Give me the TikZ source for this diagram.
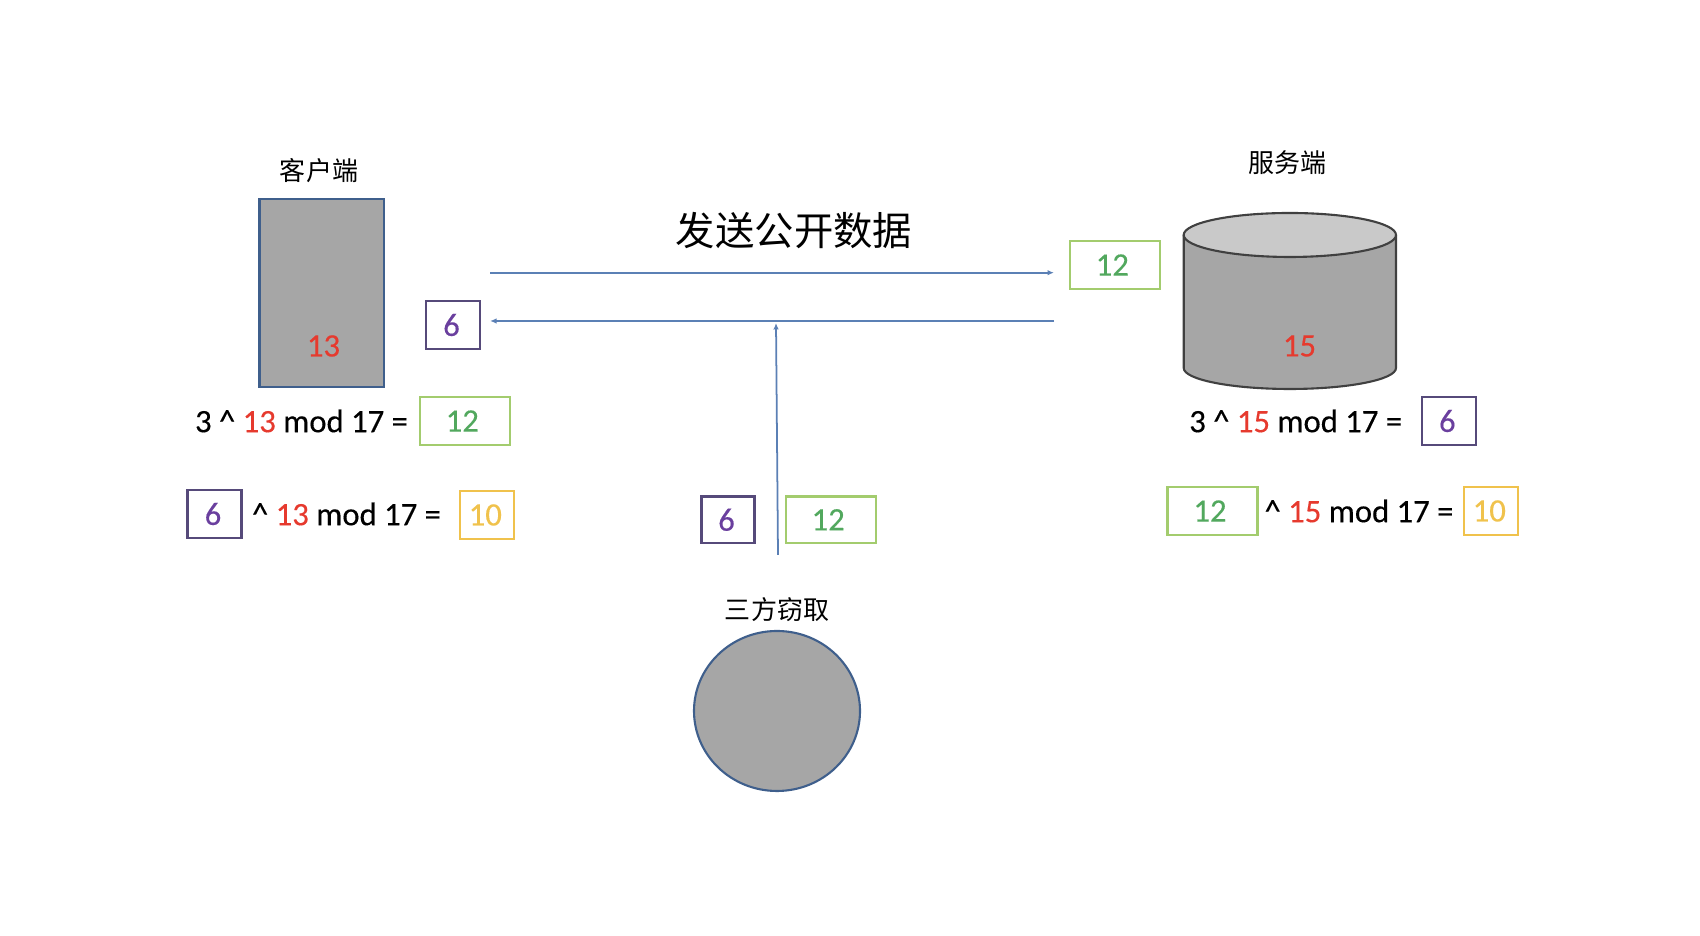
\documentclass[tikz,border=0pt]{standalone}
\usepackage{fontspec}
\setmainfont[FakeBold=0.3]{Carlito}
\newfontfamily\cjk{Noto Sans CJK SC}
\usepackage{xcolor}
\definecolor{myred}{HTML}{E63A2E}
\definecolor{mygreen}{HTML}{52A85E}
\definecolor{mygreenbox}{HTML}{A3CC6E}
\definecolor{mypurple}{HTML}{6A3F9E}
\definecolor{mypurplebox}{HTML}{564A7A}
\definecolor{myyellow}{HTML}{F0C24C}
\definecolor{myblue}{HTML}{5B80B5}
\definecolor{myedge}{HTML}{3F5F8C}
\definecolor{mygrey}{HTML}{A6A6A6}
\definecolor{mylight}{HTML}{C9C9C9}
\definecolor{mydark}{HTML}{404040}
\usetikzlibrary{arrows.meta}
\usetikzlibrary{shapes.geometric}
\newcommand{\rd}[1]{\textcolor{myred}{#1}}
\tikzset{
  valbox/.style={draw, line width=0.6pt, inner sep=0pt, minimum height=0.48cm},
  greenbox/.style={valbox, draw=mygreenbox, text=mygreen, minimum width=0.9cm, execute at end node={\hspace{.05cm}}},
  purplebox/.style={valbox, draw=mypurplebox, text=mypurple, minimum width=0.54cm, execute at end node={\hspace{.03cm}}},
  yellowbox/.style={valbox, draw=myyellow, text=myyellow, minimum width=0.54cm, execute at end node={\hspace{.03cm}}},
  calc/.style={inner sep=0pt, text=black},
  caption/.style={inner sep=0pt, font=\cjk\fontsize{7.4}{9}\selectfont},
  secret/.style={inner sep=0pt, text=myred},
  flow/.style={myblue, line width=0.5pt, -{Latex[length=0.65mm,width=0.55mm]}},
  device/.style={draw=myedge, fill=mygrey, line width=0.6pt, inner sep=0pt}
}
\begin{document}
\begin{tikzpicture}[font=\fontsize{9.3}{11}\selectfont]
      \useasboundingbox (0cm,0cm) rectangle (17cm,9.36cm);

      % client
      \node[device, rectangle, minimum width=1.245cm, minimum height=1.88cm] (client) at (3.2175cm,6.43cm) {};
      \node[caption] (clientname) at (3.19cm,7.65cm) {客户端};
      \node[secret] (clientkey) at (3.235cm,5.90cm) {13};
      \node[purplebox] (sixa) at (4.53cm,6.11cm) {6};
      \node[calc] (calca) at (3.015cm,5.15cm) {3 \^{} \rd{13} mod 17 =};
      \node[greenbox] (twelvea) at (4.648cm,5.15cm) {12};
      \node[purplebox] (sixb) at (2.145cm,4.22cm) {6};
      \node[calc] (calcb) at (3.465cm,4.22cm) {\^{} \rd{13} mod 17 =};
      \node[yellowbox] (tena) at (4.868cm,4.21cm) {10};

      % server
      \draw[mydark, fill=mygrey, line width=0.6pt] (11.837cm,7.01cm) -- (11.837cm,5.68cm)
        arc [start angle=180, end angle=360, x radius=1.0615cm, y radius=0.21cm] -- (13.96cm,7.01cm);
      \draw[mydark, fill=mylight, line width=0.6pt] (12.8985cm,7.01cm) ellipse [x radius=1.0615cm, y radius=0.22cm];
      \node[caption] (servername) at (12.877cm,7.73cm) {服务端};
      \node[secret] (serverkey) at (12.995cm,5.90cm) {15};
      \node[greenbox] (twelveb) at (11.148cm,6.71cm) {12};
      \node[calc] (calcc) at (12.957cm,5.15cm) {3 \^{} \rd{15} mod 17 =};
      \node[purplebox] (sixc) at (14.488cm,5.15cm) {6};
      \node[greenbox] (twelvec) at (12.125cm,4.25cm) {12};
      \node[calc] (calcd) at (13.59cm,4.25cm) {\^{} \rd{15} mod 17 =};
      \node[yellowbox] (tenb) at (14.908cm,4.25cm) {10};

      % public exchange
      \node[inner sep=0pt, font=\cjk\fontsize{11.2}{13}\selectfont] (public) at (7.94cm,7.05cm) {发送公开数据};
      \coordinate (sendl) at (4.90cm,6.633cm);
      \coordinate (sendr) at (10.54cm,6.633cm);
      \coordinate (backr) at (10.54cm,6.15cm);
      \coordinate (backl) at (4.90cm,6.15cm);
      \draw[flow] (sendl) -- (sendr);
      \draw[flow] (backr) -- (backl);

      % third party
      \node[device, ellipse, minimum width=1.66cm, minimum height=1.6cm] (spy) at (7.77cm,2.25cm) {};
      \node[caption] (spyname) at (7.77cm,3.26cm) {三方窃取};
      \coordinate (tapfrom) at (7.78cm,3.81cm);
      \coordinate (tapto) at (7.76cm,6.13cm);
      \draw[flow] (tapfrom) -- (tapto);
      \node[purplebox, minimum width=0.53cm, minimum height=0.465cm] (sixd) at (7.28cm,4.162cm) {6};
      \node[greenbox, minimum height=0.465cm] (twelved) at (8.307cm,4.162cm) {12};
\end{tikzpicture}
\end{document}
